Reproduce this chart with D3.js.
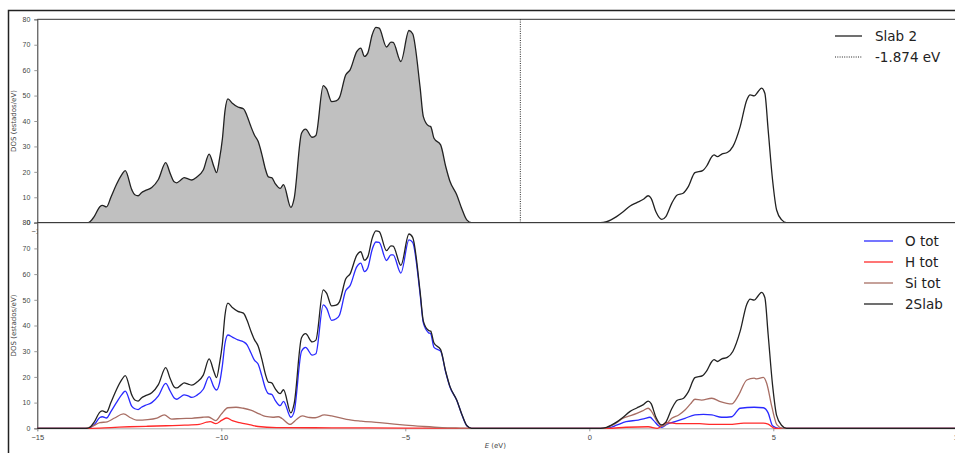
<!DOCTYPE html>
<html><head><meta charset="utf-8">
<script src="https://cdn.jsdelivr.net/npm/d3@7"></script>
<style>html,body{margin:0;padding:0;background:#fff;}svg{display:block;}</style>
</head><body>
<script>
// ---------- data ----------
const xTicks = [-15, -10, -5, 0, 5, 10];
const yTicks = [0, 10, 20, 30, 40, 50, 60, 70, 80];
const fermiLevel = -1.874;
const legendTop = ["Slab 2", "-1.874 eV"];
const legendBottom = ["O tot", "H tot", "Si tot", "2Slab"];

const slabE = [-15, -13.65, -13.57, -13.45, -13.30, -13.23, -13.12, -13.0, -12.85, -12.70, -12.61, -12.43, -12.35, -12.26, -12.17, -12.07, -11.89, -11.71, -11.51, -11.39, -11.28, -11.21, -11.10, -11.01, -10.90, -10.80, -10.67, -10.49, -10.33, -10.20, -10.13, -10.05, -9.97, -9.90, -9.82, -9.70, -9.55, -9.40, -9.30, -9.20, -9.10, -9.00, -8.90, -8.80, -8.72, -8.63, -8.54, -8.40, -8.31, -8.11, -8.02, -7.82, -7.71, -7.53, -7.43, -7.23, -7.14, -7.00, -6.88, -6.79, -6.62, -6.50, -6.32, -6.21, -6.11, -6.02, -5.90, -5.80, -5.71, -5.51, -5.39, -5.33, -5.12, -4.90, -4.80, -4.60, -4.51, -4.37, -4.31, -4.22, -4.04, -3.90, -3.79, -3.60, -3.47, -3.33, -3.20,
  0.30, 0.47, 0.74, 0.92, 1.11, 1.29, 1.47, 1.60, 1.68, 1.81, 1.97, 2.08, 2.24, 2.39, 2.55, 2.69, 2.87, 3.08, 3.19, 3.33, 3.39, 3.48, 3.60, 3.75, 3.90, 4.10, 4.28, 4.37, 4.48, 4.59, 4.68, 4.77, 4.86, 4.98, 5.09, 5.23, 5.36, 10];
const slabDOS = [0, 0, 0.4, 2.5, 6.3, 6.8, 6.2, 10, 15, 19, 20.5, 12.9, 11, 10.6, 11.8, 12.6, 13.8, 17, 23.6, 19.4, 16.1, 15.7, 16.8, 17.7, 17.2, 16.8, 17.9, 20.7, 27, 22, 19.7, 25, 33, 44, 48.7, 47, 45.5, 44.8, 42, 38, 34.5, 32, 27, 21, 18, 17.7, 15.5, 13.5, 15, 6, 9.6, 35.2, 36.8, 33.6, 34.3, 53.9, 52.6, 47.6, 47.9, 49.2, 58.1, 60.1, 67.3, 68.7, 65.4, 66.7, 73.9, 76.8, 76.5, 69.1, 71, 70.9, 63.4, 75.6, 74.3, 53.5, 41.7, 38.1, 37.8, 33.2, 30.6, 22, 16.4, 10.9, 5.7, 1.1, 0,
  0, 0.4, 2.4, 4.3, 6.6, 7.9, 9.2, 10.6, 9.6, 4.3, 1.3, 2.4, 7.6, 10.9, 11.6, 14.2, 19.7, 20.5, 22.3, 26, 26.7, 26, 27, 27.6, 29.9, 37.8, 48.3, 50.3, 49.9, 51.6, 52.9, 50.9, 36.5, 16.8, 5, 1.1, 0, 0];

const oE = [-15, -13.65, -13.57, -13.45, -13.30, -13.23, -13.12, -13.0, -12.85, -12.70, -12.61, -12.43, -12.35, -12.26, -12.17, -12.07, -11.89, -11.71, -11.51, -11.39, -11.28, -11.21, -11.10, -11.01, -10.90, -10.80, -10.67, -10.49, -10.33, -10.20, -10.13, -10.05, -9.97, -9.90, -9.82, -9.70, -9.55, -9.40, -9.30, -9.20, -9.10, -9.00, -8.90, -8.80, -8.72, -8.63, -8.54, -8.40, -8.31, -8.11, -8.02, -7.82, -7.71, -7.53, -7.43, -7.23, -7.14, -7.00, -6.88, -6.79, -6.62, -6.50, -6.32, -6.21, -6.11, -6.02, -5.90, -5.80, -5.71, -5.51, -5.39, -5.33, -5.12, -4.90, -4.80, -4.60, -4.51, -4.37, -4.31, -4.22, -4.04, -3.90, -3.79, -3.60, -3.47, -3.33, -3.20,
  0.30, 0.56, 0.74, 1.0, 1.33, 1.5, 1.65, 1.75, 1.88, 1.97, 2.1, 2.33, 2.6, 2.87, 3.1, 3.33, 3.6, 3.87, 4.1, 4.48, 4.73, 4.86, 4.98, 5.15, 10];
const oDOS = [0, 0, 0.2, 1.5, 4.2, 4.5, 4.0, 6.5, 10, 13.2, 14.5, 8.5, 7.6, 7.3, 8.2, 8.9, 10.0, 12.6, 17.5, 14.5, 11.8, 11.3, 12.3, 13.0, 12.6, 12.0, 12.8, 15.2, 20.1, 16.0, 14.9, 17.5, 24.5, 33, 36.3, 35.5, 34.4, 33.7, 32.5, 29.5, 26.5, 25, 20.5, 15.5, 13.5, 13.2, 11, 8.8, 10.5, 4.3, 6.5, 30.0, 31.5, 28.5, 29.0, 48.0, 46.8, 42.0, 42.6, 44.0, 53.5, 55.5, 62.8, 64.3, 61.0, 62.4, 69.6, 72.5, 72.3, 65.3, 67.5, 67.5, 60.4, 73.3, 72.3, 52.5, 41.0, 37.2, 36.8, 31.5, 30.0, 21.7, 16.2, 10.8, 5.6, 1.0, 0,
  0, 0.3, 1.2, 2.6, 3.2, 3.8, 4.3, 3.0, 1.0, 0.4, 1.5, 2.6, 3.9, 5.2, 5.4, 5.2, 4.3, 4.5, 7.8, 8.2, 8.0, 6.0, 1.0, 0, 0];

const hE = [-15, -13.6, -13.0, -12.5, -12.0, -11.5, -11.0, -10.6, -10.4, -10.3, -10.15, -9.98, -9.85, -9.7, -9.5, -9.2, -9.0, -8.5, -7.0, -5.0, -3.5,
  0.5, 1.0, 1.6, 1.85, 2.1, 2.43, 3.0, 3.33, 3.8, 4.2, 4.73, 4.86, 5.05, 10];
const hDOS = [0, 0, 0.3, 0.6, 0.8, 1.0, 1.2, 1.5, 2.4, 2.6, 1.8, 3.2, 4.0, 3.0, 2.2, 1.3, 0.7, 0.3, 0.2, 0.1, 0,
  0, 0.4, 0.6, 0, 2.2, 1.8, 1.8, 1.5, 1.5, 2.0, 2.0, 1.6, 0, 0];

const siE = [-15, -13.7, -13.5, -13.3, -13.1, -12.9, -12.66, -12.45, -12.3, -12.0, -11.75, -11.55, -11.35, -11.1, -10.8, -10.5, -10.35, -10.15, -10.0, -9.82, -9.6, -9.4, -9.2, -8.97, -8.8, -8.6, -8.45, -8.35, -8.13, -7.95, -7.8, -7.6, -7.45, -7.2, -7.0, -6.6, -6.2, -5.7, -5.3, -5.0, -4.5, -4.0, -3.5, -3.2,
  0.3, 0.47, 0.7, 0.92, 1.1, 1.29, 1.45, 1.6, 1.68, 1.85, 1.97, 2.1, 2.24, 2.43, 2.6, 2.75, 2.87, 3.05, 3.33, 3.56, 3.87, 4.06, 4.28, 4.48, 4.55, 4.73, 4.82, 4.96, 5.1, 5.25, 10];
const siDOS = [0, 0, 0.8, 2.2, 2.5, 4, 5.6, 4, 3.2, 3.4, 4, 5.2, 3.6, 3.8, 3.9, 4.3, 4.4, 3, 5.5, 8, 8.2, 7.8, 7.1, 5.6, 4.6, 4.3, 4.5, 3.8, 1.5, 3.5, 4.8, 4.2, 4.1, 5.2, 4.8, 3.5, 2.8, 2.2, 1.6, 1.2, 0.7, 0.3, 0.1, 0,
  0, 0.3, 1.8, 3.9, 4.8, 5.8, 6.8, 7.8, 6.8, 2.5, 0.8, 1.8, 3.9, 5.2, 7.1, 9.5, 11.3, 11, 11.7, 10.4, 9.5, 13, 18.8, 19.5, 19.2, 19.8, 17.5, 8.4, 1.3, 0, 0];

// ---------- layout ----------
const W = 955, H = 453;
const X0 = 37.3, X1 = 957.3;
const topY0 = 222.7, topY1 = 19.3;
const botY0 = 428.3, botY1 = 222.7;
const textCol = "#444";

const svg = d3.select("body").append("svg").attr("width", W).attr("height", H)
  .style("font-family", "'DejaVu Sans', sans-serif");

const x = d3.scaleLinear().domain([-15, 10]).range([X0, X1]);
const yTop = d3.scaleLinear().domain([0, 80]).range([topY0, topY1]);
const yBot = d3.scaleLinear().domain([0, 80]).range([botY0, botY1]);

const zip = (e, v) => e.map((d, i) => [d, v[i]]);
const slab = zip(slabE, slabDOS), oTot = zip(oE, oDOS), hTot = zip(hE, hDOS), siTot = zip(siE, siDOS);
const curve = d3.curveMonotoneX;

function drawAxes(g, y) {
  const yAx = d3.axisLeft(y).tickValues(yTicks).tickSize(3).tickPadding(4).tickFormat(d3.format("d"));
  const gy = g.append("g").attr("transform", `translate(${X0},0)`).call(yAx);
  gy.select(".domain").attr("stroke", "#333");
  gy.selectAll(".tick line").attr("stroke", "#999");
  gy.selectAll("text").attr("fill", textCol).style("font-size", "7px");
  const xAx = d3.axisBottom(x).tickValues(xTicks).tickSize(3).tickPadding(3)
    .tickFormat(d => d < 0 ? "\u2212" + Math.abs(d) : d);
  const gx = g.append("g").attr("transform", `translate(0,${y(0)})`).call(xAx);
  gx.select(".domain").attr("stroke", "#aaa");
  gx.selectAll(".tick line").attr("stroke", "#999");
  gx.selectAll("text").attr("fill", textCol).style("font-size", "7.5px");
  g.append("line").attr("x1", X0).attr("x2", X1).attr("y1", y(80)).attr("y2", y(80)).attr("stroke", "#333");
  g.append("text").attr("transform", `translate(16,${(y(0) + y(80)) / 2}) rotate(-90)`)
    .attr("text-anchor", "middle").attr("fill", textCol).style("font-size", "7px").text("DOS (estados/eV)");
}

// ---------- top panel ----------
const gTop = svg.append("g");
const filled = slab.filter(d => d[0] <= fermiLevel);
gTop.append("path").datum(filled)
  .attr("d", d3.area().x(d => x(d[0])).y0(yTop(0)).y1(d => yTop(d[1])).curve(curve))
  .attr("fill", "#c0c0c0");
drawAxes(gTop, yTop);
gTop.append("path").datum(slab)
  .attr("d", d3.line().x(d => x(d[0])).y(d => yTop(d[1])).curve(curve))
  .attr("fill", "none").attr("stroke", "#222").attr("stroke-width", 1.3);
gTop.append("line").attr("x1", x(fermiLevel)).attr("x2", x(fermiLevel))
  .attr("y1", yTop(0)).attr("y2", yTop(80))
  .attr("stroke", "#222").attr("stroke-width", 1).attr("stroke-dasharray", "1,1.3");

const lgT = gTop.append("g");
legendTop.forEach((t, i) => {
  const yy = 36 + i * 21;
  lgT.append("line").attr("x1", 835).attr("x2", 862).attr("y1", yy).attr("y2", yy)
    .attr("stroke", "#222").attr("stroke-width", i === 0 ? 1.3 : 1).attr("stroke-dasharray", i === 0 ? null : "1,1.3");
  lgT.append("text").attr("x", 875).attr("y", yy + 5).attr("fill", "#222").style("font-size", "13.5px").text(t);
});

// ---------- bottom panel ----------
const gBot = svg.append("g");
gBot.append("rect").attr("x", X0).attr("y", botY1).attr("width", X1 - X0).attr("height", botY0 - botY1).attr("fill", "#fff");
drawAxes(gBot, yBot);
const lineB = d3.line().x(d => x(d[0])).y(d => yBot(d[1])).curve(curve);
const series = [
  {data: oTot, color: "#2a2aff"},
  {data: hTot, color: "#ff2a2a"},
  {data: siTot, color: "#a86e64"},
  {data: slab, color: "#222"}
];
series.forEach(s => {
  gBot.append("path").datum(s.data).attr("d", lineB)
    .attr("fill", "none").attr("stroke", s.color).attr("stroke-width", 1.3);
});
gBot.append("text").attr("x", (X0 + X1) / 2 - 2).attr("y", 448).attr("text-anchor", "middle")
  .attr("fill", textCol).style("font-size", "7px")
  .html('<tspan font-style="italic">E</tspan> (eV)');

const lgB = gBot.append("g");
legendBottom.forEach((t, i) => {
  const yy = 241 + i * 21;
  lgB.append("line").attr("x1", 864).attr("x2", 893).attr("y1", yy).attr("y2", yy)
    .attr("stroke", series[i].color).attr("stroke-width", 1.3);
  lgB.append("text").attr("x", 905).attr("y", yy + 5).attr("fill", "#222").style("font-size", "13.5px").text(t);
});

svg.append("path").attr("d", `M8.5,${H + 2} V10.5 H${W + 2}`).attr("fill", "none").attr("stroke", "#222").attr("stroke-width", 1.5);
</script>
</body></html>
